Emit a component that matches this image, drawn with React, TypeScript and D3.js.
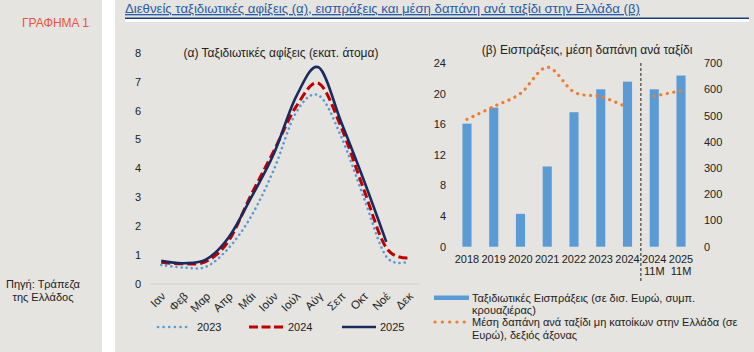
import React from "react";
import * as d3 from "d3";

// monthly arrivals (millions)
const months = ["Ιαν", "Φεβ", "Μαρ", "Απρ", "Μάι", "Ιούν", "Ιούλ", "Αύγ", "Σεπ", "Οκτ", "Νοέ", "Δεκ"];
const arrivals2023 = [0.66, 0.57, 0.6, 1.25, 2.35, 3.95, 5.95, 6.53, 5.1, 3.0, 0.95, 0.78];
const arrivals2024 = [0.75, 0.7, 0.78, 1.5, 3.1, 4.6, 6.15, 6.95, 5.42, 3.28, 1.25, 0.9];
const arrivals2025 = [0.8, 0.72, 0.85, 1.62, 3.0, 4.5, 6.5, 7.5, 5.6, 3.6, 1.46];
const leftTicks = [0, 1, 2, 3, 4, 5, 6, 7, 8];

// receipts (bn euro) and average spending per trip (euro)
const periods = [["2018"], ["2019"], ["2020"], ["2021"], ["2022"], ["2023"], ["2024"], ["2024", "11M"], ["2025", "11M"]];
const receipts = [16.1, 18.2, 4.3, 10.5, 17.6, 20.6, 21.6, 20.6, 22.4];
const spendYears = [486, 535, 585, 685, 590, 573, 532];
const spendYtd = [575, 595];
const receiptTicks = [0, 4, 8, 12, 16, 20, 24];
const spendTicks = [0, 100, 200, 300, 400, 500, 600, 700];

const bg = "#e5e4e0";
const font = "'Liberation Sans', Arial, sans-serif";

export default function App() {
  // left chart
  const xL = d3.scaleBand<string>().domain(months).range([150, 420]);
  const yL = d3.scaleLinear().domain([0, 8]).range([284, 53]);
  const cx = (i: number) => (xL(months[i]) as number) + xL.bandwidth() / 2;
  const line = d3
    .line<number>()
    .x((d, i) => cx(i))
    .y((d) => yL(d))
    .curve(d3.curveCardinal.tension(0));

  // right chart
  const keys = periods.map((p) => p.join(" "));
  const xR = d3.scaleBand<string>().domain(keys).range([453.6, 694.4]).paddingInner(0.66).paddingOuter(0.33);
  const yRec = d3.scaleLinear().domain([0, 24]).range([246.7, 63.3]);
  const ySp = d3.scaleLinear().domain([0, 700]).range([246.7, 63.3]);
  const bc = (i: number) => (xR(keys[i]) as number) + xR.bandwidth() / 2;
  const spLine = d3
    .line<number[]>()
    .x((d) => d[0])
    .y((d) => ySp(d[1]))
    .curve(d3.curveCardinal.tension(0));
  const spMain = spendYears.map((v, i) => [bc(i), v]);
  const spYtd = spendYtd.map((v, i) => [bc(i + 7), v]);
  const sepX = (bc(6) + bc(7)) / 2;

  return (
    <div style={{ position: "fixed", left: 0, top: 0 }}>
      <svg width={754} height={352} style={{ display: "block", fontFamily: font }}>
        <rect x={0} y={0} width={754} height={352} fill="#fff" />
        <rect x={0} y={0} width={102} height={352} fill={bg} />
        <rect x={115} y={0} width={639} height={352} fill={bg} />

        {/* header */}
        <text x={22} y={27} fontSize={12} fill="#e8553f">ΓΡΑΦΗΜΑ 1</text>
        <text x={43} y={288} fontSize={11} fill="#222" textAnchor="middle">Πηγή: Τράπεζα</text>
        <text x={43} y={301} fontSize={11} fill="#222" textAnchor="middle">της Ελλάδος</text>
        <text x={125} y={13} fontSize={13.2} fill="#2a5aa6" textDecoration="underline">
          Διεθνείς ταξιδιωτικές αφίξεις (α), εισπράξεις και μέση δαπάνη ανά ταξίδι στην Ελλάδα (β)
        </text>
        <rect x={125} y={17.5} width={624} height={1.6} fill="#1f3d7a" />
        <rect x={125} y={19.1} width={624} height={2.6} fill="#fff" />

        {/* (a) arrivals */}
        <text x={281} y={57} fontSize={12} fill="#222" textAnchor="middle">(α) Ταξιδιωτικές αφίξεις (εκατ. άτομα)</text>
        {leftTicks.map((t) => (
          <text key={t} x={141} y={yL(t)} dy="0.35em" fontSize={11} fill="#222" textAnchor="end">{t}</text>
        ))}
        <line x1={150} x2={420} y1={yL(0)} y2={yL(0)} stroke="#d0d0d0" />
        {months.map((m, i) => (
          <text key={m} fontSize={11.5} fill="#222" textAnchor="end"
            transform={`translate(${cx(i) + 5},${297}) rotate(-45)`}>{m}</text>
        ))}
        <path d={line(arrivals2023) || ""} fill="none" stroke="#5b9bd5" strokeWidth={2.6}
          strokeDasharray="0.1 5" strokeLinecap="round" />
        <path d={line(arrivals2024) || ""} fill="none" stroke="#c00000" strokeWidth={3}
          strokeDasharray="9 4" />
        <path d={line(arrivals2025) || ""} fill="none" stroke="#1b2a5e" strokeWidth={2.6} />

        {/* legend (a) */}
        <line x1={158} x2={191} y1={327} y2={327} stroke="#5b9bd5" strokeWidth={2.6} strokeDasharray="0.1 5.5" strokeLinecap="round" />
        <text x={197} y={327} dy="0.35em" fontSize={11} fill="#222">2023</text>
        <line x1={249} x2={283} y1={327} y2={327} stroke="#c00000" strokeWidth={3} strokeDasharray="9 3.5" />
        <text x={288} y={327} dy="0.35em" fontSize={11} fill="#222">2024</text>
        <line x1={342} x2={376} y1={327} y2={327} stroke="#1b2a5e" strokeWidth={2.6} />
        <text x={380} y={327} dy="0.35em" fontSize={11} fill="#222">2025</text>

        {/* (b) receipts and spending */}
        <text x={587} y={54} fontSize={12} fill="#222" textAnchor="middle">(β) Εισπράξεις, μέση δαπάνη ανά ταξίδι</text>
        {receiptTicks.map((t) => (
          <text key={t} x={446} y={yRec(t)} dy="0.35em" fontSize={11} fill="#222" textAnchor="end">{t}</text>
        ))}
        {spendTicks.map((t) => (
          <text key={t} x={704} y={ySp(t)} dy="0.35em" fontSize={11} fill="#222">{t}</text>
        ))}
        {receipts.map((v, i) => (
          <rect key={i} x={xR(keys[i])} y={yRec(v)} width={xR.bandwidth()} height={yRec(0) - yRec(v)} fill="#5b9bd5" />
        ))}
        {periods.map((p, i) =>
          p.map((s, j) => (
            <text key={i + "-" + j} x={bc(i)} y={263 + j * 11.5} fontSize={11} fill="#222" textAnchor="middle">{s}</text>
          ))
        )}
        <path d={spLine(spMain) || ""} fill="none" stroke="#ed7d31" strokeWidth={3.2}
          strokeDasharray="0.1 6.5" strokeLinecap="round" />
        <path d={spLine(spYtd) || ""} fill="none" stroke="#ed7d31" strokeWidth={3.2}
          strokeDasharray="0.1 6.5" strokeLinecap="round" />
        <line x1={sepX} x2={sepX} y1={63} y2={281} stroke="#222" strokeWidth={1} strokeDasharray="3 2" />

        {/* legend (b) */}
        <rect x={434} y={295.5} width={35} height={4.5} fill="#5b9bd5" />
        <text x={472} y={298} dy="0.35em" fontSize={11} fill="#222">Ταξιδιωτικές Εισπράξεις (σε δισ. Ευρώ, συμπ.</text>
        <text x={472} y={310.5} dy="0.35em" fontSize={11} fill="#222">κρουαζιέρας)</text>
        <line x1={435} x2={465} y1={322} y2={322} stroke="#ed7d31" strokeWidth={3.2} strokeDasharray="0.1 7.2" strokeLinecap="round" />
        <text x={472} y={322} dy="0.35em" fontSize={11} fill="#222">Μέση δαπάνη ανά ταξίδι μη κατοίκων στην Ελλάδα (σε</text>
        <text x={472} y={335} dy="0.35em" fontSize={11} fill="#222">Ευρώ), δεξιός άξονας</text>
      </svg>
    </div>
  );
}
